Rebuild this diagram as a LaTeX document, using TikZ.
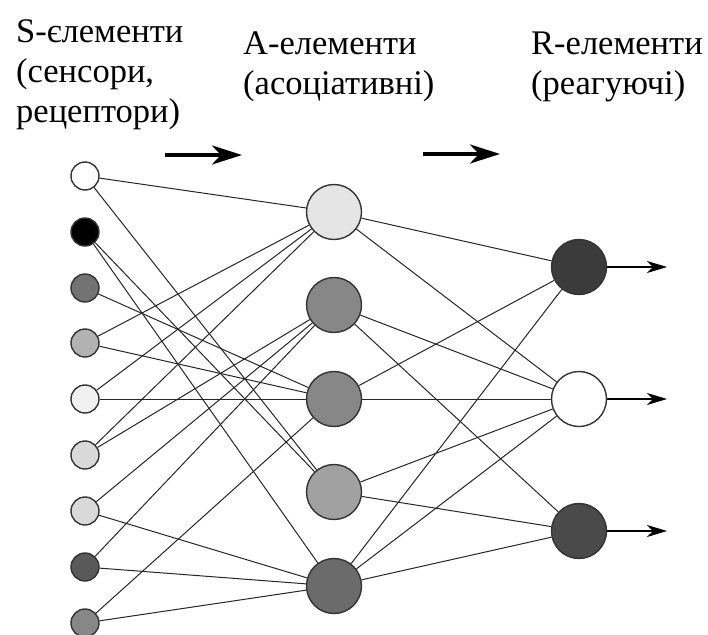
\documentclass[tikz,border=0pt]{standalone}
\usepackage{fontspec}
\setmainfont{Liberation Serif}
\newfontfamily\titlefont{Liberation Serif}
\usetikzlibrary{arrows.meta,backgrounds}

\tikzset{
  sensor/.style={circle,draw=black!80,line width=1.4pt,minimum size=28pt,inner sep=0pt},
  assoc/.style={circle,draw=black!80,line width=1.4pt,minimum size=55pt,inner sep=0pt},
  link/.style={draw=black!85,line width=1pt},
  title/.style={anchor=north west,align=left,inner sep=0pt,font=\titlefont\fontsize{34.5}{40}\selectfont},
  flow/.style={line width=4pt,-{Stealth[length=30pt,width=19pt,inset=9pt]}},
  outarrow/.style={line width=1.4pt,-{Stealth[length=20pt,width=12pt,inset=6pt]}}
}

\begin{document}
\begin{tikzpicture}[x=1pt,y=-1pt]
    \useasboundingbox (0,0) rectangle (708,634);

    % Titles
    \node[title] (ts) at (16,19) {S-єлементи\\(сенсори,\\рецептори)};
    \node[title] (ta) at (243,32) {A-елементи\\(асоціативні)};
    \node[title] (tr) at (531,32) {R-елементи\\(реагуючі)};
    \draw[flow] (165,155) -- (242,155);
    \draw[flow] (423,154) -- (500,154);

    % S layer
    \node[sensor,fill=white]    (s1) at (85,176) {};
    \node[sensor,fill=black]    (s2) at (85,232) {};
    \node[sensor,fill=black!55] (s3) at (85,288) {};
    \node[sensor,fill=black!30] (s4) at (85,343) {};
    \node[sensor,fill=black!6]  (s5) at (85,399) {};
    \node[sensor,fill=black!15] (s6) at (85,455) {};
    \node[sensor,fill=black!15] (s7) at (85,511) {};
    \node[sensor,fill=black!65] (s8) at (85,567) {};
    \node[sensor,fill=black!47] (s9) at (85,623) {};

    % A layer
    \node[assoc,fill=black!10] (a1) at (334,212) {};
    \node[assoc,fill=black!47] (a2) at (334,305) {};
    \node[assoc,fill=black!47] (a3) at (334,399) {};
    \node[assoc,fill=black!37] (a4) at (334,492) {};
    \node[assoc,fill=black!58] (a5) at (334,586) {};

    % R layer
    \node[assoc,fill=black!77] (r1) at (579,267) {};
    \node[assoc,fill=white]    (r2) at (579,399) {};
    \node[assoc,fill=black!71] (r3) at (579,531) {};

    \coordinate (o1) at (667,267);
    \coordinate (o2) at (667,399);
    \coordinate (o3) at (667,531);

    \begin{scope}[on background layer]
        \foreach \s/\a in {s1/a1,s1/a4,s2/a4,s2/a5,s3/a3,s4/a1,s4/a3,s5/a1,s5/a3,
                           s6/a1,s6/a2,s7/a2,s7/a5,s8/a2,s8/a5,s9/a3,s9/a5}
            \draw[link] (\s) -- (\a);
        \foreach \a/\r in {a1/r1,a1/r2,a2/r2,a2/r3,a3/r1,a3/r2,a4/r2,a4/r3,a5/r1,a5/r2,a5/r3}
            \draw[link] (\a) -- (\r);
    \end{scope}

    \draw[outarrow] (r1) -- (o1);
    \draw[outarrow] (r2) -- (o2);
    \draw[outarrow] (r3) -- (o3);
\end{tikzpicture}
\end{document}
